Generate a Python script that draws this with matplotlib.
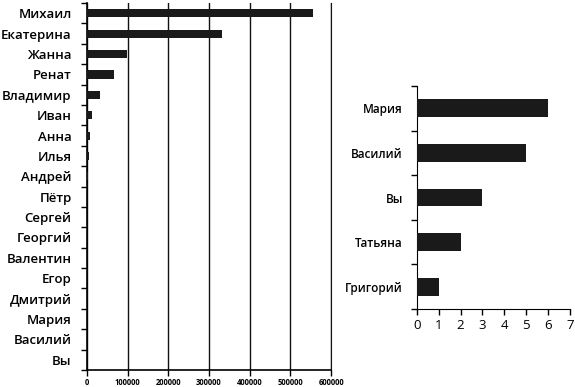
import numpy as np
import matplotlib.pyplot as plt

plt.rcParams['font.family'] = ['Open Sans', 'DejaVu Sans']

# left chart data
names_all = ['Михаил', 'Екатерина', 'Жанна', 'Ренат', 'Владимир', 'Иван', 'Анна',
             'Илья', 'Андрей', 'Пётр', 'Сергей', 'Георгий', 'Валентин', 'Егор',
             'Дмитрий', 'Мария', 'Василий', 'Вы']
values_all = [555000, 333000, 98000, 66000, 32000, 11500, 9000, 5000, 2000,
              600, 300, 200, 100, 50, 20, 6, 5, 3]
ticks_all = [0, 100000, 200000, 300000, 400000, 500000, 600000]

# right chart data
names_top = ['Мария', 'Василий', 'Вы', 'Татьяна', 'Григорий']
values_top = [6, 5, 3, 2, 1]
ticks_top = [0, 1, 2, 3, 4, 5, 6, 7]

fig = plt.figure(figsize=(5.75, 3.87), dpi=100)

#region left chart
ax1 = fig.add_axes([0.151, 0.044, 0.425, 0.948])
n = len(names_all)
pos = np.arange(n)[::-1]
ax1.barh(pos, values_all, height=0.4, color='#1a1a1a', zorder=3)
ax1.set_ylim(-0.5, n - 0.5)
ax1.set_xlim(0, 600000)
ax1.set_xticks(ticks_all)
ax1.set_xticklabels([str(t) for t in ticks_all], fontsize=5.5, fontweight='bold')
ax1.set_yticks(pos)
ax1.set_yticklabels(names_all, fontsize=9.5, fontweight='semibold')
ax1.set_yticks(np.arange(n + 1) - 0.5, minor=True)
ax1.tick_params(axis='y', which='major', length=0, pad=11)
ax1.tick_params(axis='y', which='minor', length=4, direction='out', width=1)
ax1.tick_params(axis='x', length=4, width=1, pad=1.5)
ax1.grid(axis='x', color='#111111', linewidth=1, zorder=0)
ax1.spines['top'].set_visible(False)
ax1.spines['right'].set_color('#111111')
ax1.spines['left'].set_linewidth(1.2)
ax1.spines['bottom'].set_linewidth(1.2)
#endregion

#region right chart
ax2 = fig.add_axes([0.725, 0.2016, 0.266, 0.576])
m = len(names_top)
pos2 = np.arange(m)[::-1]
ax2.barh(pos2, values_top, height=0.4, color='#1a1a1a', zorder=3)
ax2.set_ylim(-0.5, m - 0.5)
ax2.set_xlim(0, 7)
ax2.set_xticks(ticks_top)
ax2.set_xticklabels([str(t) for t in ticks_top], fontsize=9.5)
ax2.set_yticks(pos2)
ax2.set_yticklabels(names_top, fontsize=8.5, fontweight='semibold')
ax2.set_yticks(np.arange(m + 1) - 0.5, minor=True)
ax2.tick_params(axis='y', which='major', length=0, pad=10)
ax2.tick_params(axis='y', which='minor', length=4, direction='out', width=1)
ax2.tick_params(axis='x', length=4, width=1, pad=3)
for s in ['top', 'right']:
    ax2.spines[s].set_visible(False)
#endregion

plt.savefig('out.png', dpi=100)
